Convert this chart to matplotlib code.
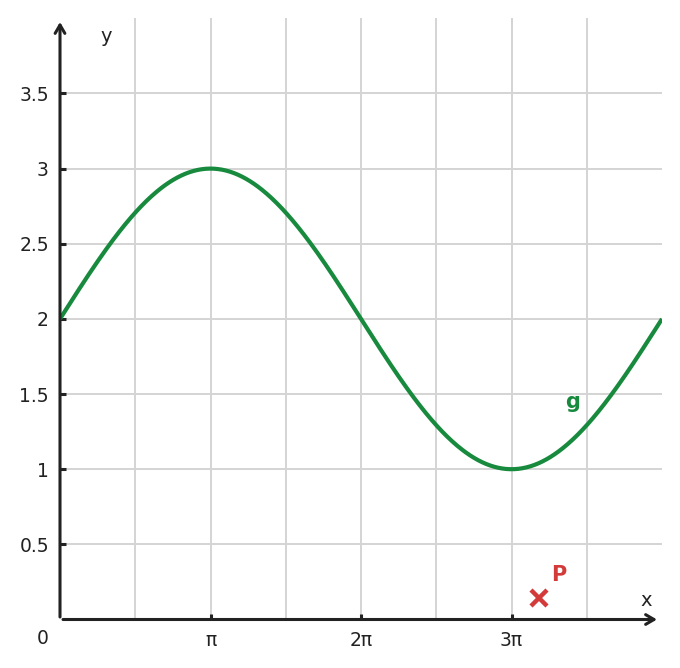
import numpy as np
import matplotlib
matplotlib.use("Agg")
import matplotlib.pyplot as plt

# Curve g: y = offset + amplitude * sin(2*pi*x/period), parameters
g_offset = 2.0
g_amplitude = 1.0
g_period = 4 * np.pi
x_range = (0.0, 4 * np.pi)

# Point P
P_x = [10.0]
P_y = [0.14]

x_ticks = [np.pi, 2 * np.pi, 3 * np.pi]
x_tick_labels = ["π", "2π", "3π"]
y_ticks = [0.5, 1, 1.5, 2, 2.5, 3, 3.5]
y_tick_labels = ["0.5", "1", "1.5", "2", "2.5", "3", "3.5"]

green = "#188a3e"
red = "#d33b3b"
dark = "#222222"

W, H = 680, 668
fig = plt.figure(figsize=(W / 100, H / 100), dpi=100)
left, right, top, bottom = 60, 662, 18, 619.5
ax = fig.add_axes([left / W, (H - bottom) / H, (right - left) / W, (bottom - top) / H])
ax.set_xlim(0, 4 * np.pi)
ax.set_ylim(0, (bottom - top) / 150.3)

for s in ax.spines.values():
    s.set_visible(False)

# grid
for gx in np.arange(1, 8) * np.pi / 2:
    ax.axvline(gx, color="#d4d4d4", lw=1.4, zorder=0)
for gy in y_ticks:
    ax.axhline(gy, color="#d4d4d4", lw=1.4, zorder=0)

xs = np.linspace(x_range[0], x_range[1], 600)
ys = g_offset + g_amplitude * np.sin(2 * np.pi * xs / g_period)
ax.plot(xs, ys, color=green, lw=3, zorder=3, solid_capstyle="butt")

ax.plot(P_x, P_y, marker="x", color=red, ms=11, mew=3.2, ls="none", zorder=4)
ax.annotate("P", (P_x[0], P_y[0]), xytext=(14, 17), textcoords="offset points",
            color=red, fontsize=15, fontweight="bold", ha="center", va="center")
ax.text(10.7, 1.45, "g", color=green, fontsize=15, fontweight="bold",
        ha="center", va="center")

# axes arrows
ax.annotate("", xy=(1.0 - 5 / (right - left), 0), xytext=(3 / (right - left), 0),
            xycoords="axes fraction",
            arrowprops=dict(arrowstyle="->,head_length=0.6,head_width=0.35",
                            color=dark, lw=2.2, shrinkA=0, shrinkB=0),
            annotation_clip=False)
ax.annotate("", xy=(0, 1.0 - 4 / (bottom - top)), xytext=(0, 2.5 / (bottom - top)),
            xycoords="axes fraction",
            arrowprops=dict(arrowstyle="->,head_length=0.6,head_width=0.35",
                            color=dark, lw=2.2, shrinkA=0, shrinkB=0),
            annotation_clip=False)

ax.set_xticks(x_ticks)
ax.set_xticklabels(x_tick_labels)
ax.set_yticks(y_ticks)
ax.set_yticklabels(y_tick_labels)
ax.tick_params(axis="both", direction="in", length=4, width=2.2, color=dark,
               labelsize=13.5, labelcolor=dark)
ax.tick_params(axis="x", pad=8)
ax.tick_params(axis="y", pad=8)

fig.text(43 / W, 1 - 638 / H, "0", fontsize=13.5, color=dark, ha="center", va="center")
fig.text(106 / W, 1 - 36 / H, "y", fontsize=14, color=dark, ha="center", va="center")
fig.text(646 / W, 1 - 600 / H, "x", fontsize=14, color=dark, ha="center", va="center")

fig.savefig("out.png", dpi=100)
